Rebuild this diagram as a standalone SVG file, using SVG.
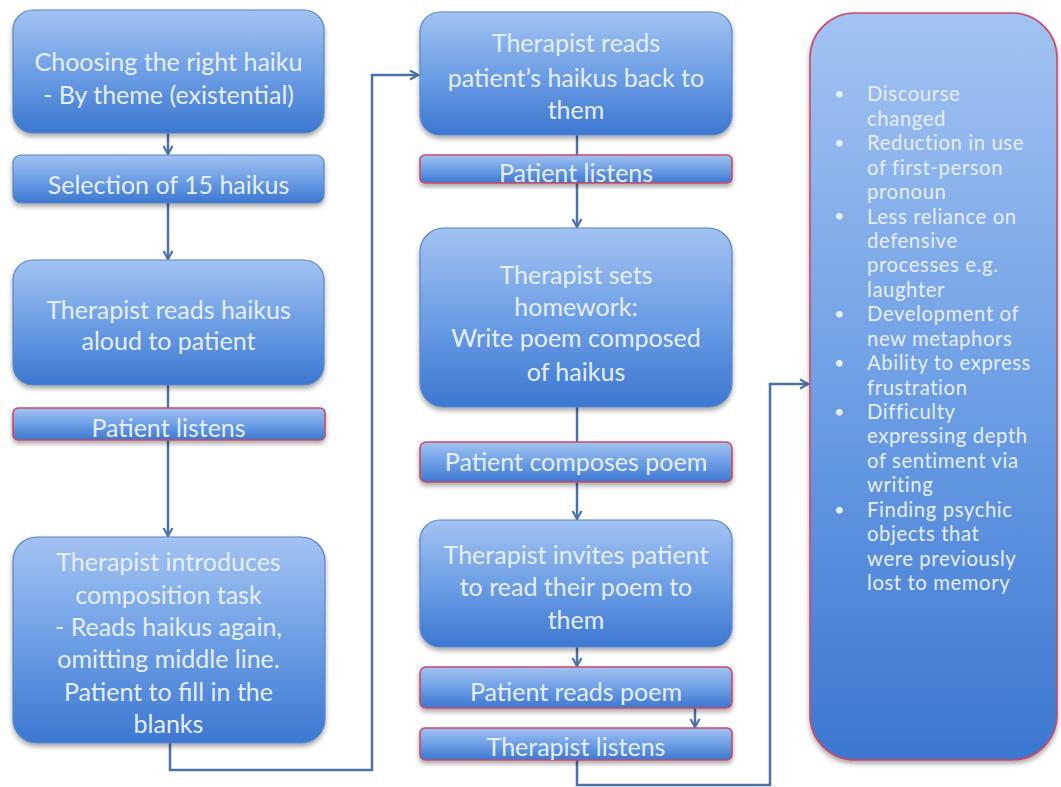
<svg xmlns="http://www.w3.org/2000/svg" width="1061" height="787" viewBox="0 0 1061 787">
  <defs>
    <linearGradient id="boxFill" x1="0" y1="0" x2="0" y2="1">
      <stop offset="0" stop-color="#a2c3f2"/>
      <stop offset="0.5" stop-color="#6e9fe5"/>
      <stop offset="1" stop-color="#3c77d1"/>
    </linearGradient>
    <filter id="shadow" x="-10%" y="-10%" width="120%" height="130%">
      <feDropShadow dx="0" dy="3" stdDeviation="2.5" flood-color="#000" flood-opacity="0.35"/>
    </filter>
    <marker id="arrow" viewBox="0 0 12 12" refX="10" refY="6" markerWidth="12" markerHeight="12" markerUnits="userSpaceOnUse" orient="auto">
      <polyline points="2,1.5 10,6 2,10.5" fill="none" stroke="#4a72a8" stroke-width="2.2" stroke-linejoin="miter"/>
    </marker>
  </defs>
  <style>
    .box { fill: url(#boxFill); stroke: #5b86c2; stroke-width: 1.2; filter: url(#shadow); }
    .sub { fill: url(#boxFill); stroke: #c94a68; stroke-width: 1.6; filter: url(#shadow); }
    .lbl { font-family: Lato, "Noto Sans", sans-serif; font-size: 25px; fill: #e6eefb; text-anchor: middle; }
    .list { font-family: Lato, "Noto Sans", sans-serif; font-size: 20.3px; letter-spacing: 0.6px; fill: #e6eefb; }
    .dot { font-family: Lato, "Noto Sans", sans-serif; font-size: 18px; fill: #e6eefb; }
    .conn { fill: none; stroke: #4a72a8; stroke-width: 2.5; }
  </style>

  <!-- connectors sit under the boxes -->
  <g id="connectors">
    <path class="conn" d="M168,133 V154" marker-end="url(#arrow)"/>
    <path class="conn" d="M168,203 V259" marker-end="url(#arrow)"/>
    <path class="conn" d="M168,385 V536" marker-end="url(#arrow)"/>
    <path class="conn" d="M170,743 V770 H372 V75 H418" marker-end="url(#arrow)"/>
    <path class="conn" d="M577,135 V227" marker-end="url(#arrow)"/>
    <path class="conn" d="M577,407 V519" marker-end="url(#arrow)"/>
    <path class="conn" d="M577,647 V666" marker-end="url(#arrow)"/>
    <path class="conn" d="M695,708 V727" marker-end="url(#arrow)"/>
    <path class="conn" d="M577,760 V785 H770 V384 H808" marker-end="url(#arrow)"/>
  </g>

  <!-- left column -->
  <g id="choose-haiku">
    <rect class="box" x="13" y="10" width="311" height="123" rx="20"/>
    <text class="lbl" x="168.5" y="71">Choosing the right haiku</text>
    <text class="lbl" x="168.5" y="104">- By theme (existential)</text>
  </g>
  <g id="selection">
    <rect class="box" x="13" y="155" width="311" height="48" rx="8"/>
    <text class="lbl" x="168.5" y="194">Selection of 15 haikus</text>
  </g>
  <g id="reads-aloud">
    <rect class="box" x="13" y="260" width="311" height="125" rx="20"/>
    <text class="lbl" x="168.5" y="319">Therapist reads haikus</text>
    <text class="lbl" x="168.5" y="350">aloud to patient</text>
  </g>
  <g id="patient-listens-1">
    <rect class="sub" x="13" y="408" width="312" height="32" rx="5"/>
    <text class="lbl" x="168.5" y="437">Patient listens</text>
  </g>
  <g id="composition-task">
    <rect class="box" x="13" y="537" width="312" height="206" rx="24"/>
    <text class="lbl" x="168.5" y="571">Therapist introduces</text>
    <text class="lbl" x="168.5" y="604">composition task</text>
    <text class="lbl" x="168.5" y="636">- Reads haikus again,</text>
    <text class="lbl" x="168.5" y="668">omitting middle line.</text>
    <text class="lbl" x="168.5" y="701">Patient to fill in the</text>
    <text class="lbl" x="168.5" y="733">blanks</text>
  </g>

  <!-- middle column -->
  <g id="reads-back">
    <rect class="box" x="420" y="12" width="312" height="123" rx="20"/>
    <text class="lbl" x="576" y="52">Therapist reads</text>
    <text class="lbl" x="576" y="87">patient’s haikus back to</text>
    <text class="lbl" x="576" y="119">them</text>
  </g>
  <g id="patient-listens-2">
    <rect class="sub" x="420" y="155" width="312" height="28" rx="5"/>
    <text class="lbl" x="576" y="182">Patient listens</text>
  </g>
  <g id="homework">
    <rect class="box" x="420" y="228" width="312" height="179" rx="24"/>
    <text class="lbl" x="576" y="284">Therapist sets</text>
    <text class="lbl" x="576" y="316">homework:</text>
    <text class="lbl" x="576" y="347">Write poem composed</text>
    <text class="lbl" x="576" y="381">of haikus</text>
  </g>
  <g id="composes-poem">
    <rect class="sub" x="420" y="442" width="312" height="40" rx="6"/>
    <text class="lbl" x="576" y="471">Patient composes poem</text>
  </g>
  <g id="invites-reading">
    <rect class="box" x="420" y="520" width="312" height="127" rx="20"/>
    <text class="lbl" x="576" y="564">Therapist invites patient</text>
    <text class="lbl" x="576" y="596">to read their poem to</text>
    <text class="lbl" x="576" y="629">them</text>
  </g>
  <g id="reads-poem">
    <rect class="sub" x="420" y="667" width="312" height="41" rx="6"/>
    <text class="lbl" x="576" y="701">Patient reads poem</text>
  </g>
  <g id="therapist-listens">
    <rect class="sub" x="420" y="728" width="312" height="32" rx="5"/>
    <text class="lbl" x="576" y="756">Therapist listens</text>
  </g>

  <!-- outcomes -->
  <g id="outcomes">
    <rect class="sub" x="810" y="13" width="247" height="747" rx="45"/>
    <g class="dot">
      <text x="834" y="100">•</text>
      <text x="834" y="149">•</text>
      <text x="834" y="222">•</text>
      <text x="834" y="320">•</text>
      <text x="834" y="369">•</text>
      <text x="834" y="418">•</text>
      <text x="834" y="516">•</text>
    </g>
    <g class="list">
      <text x="867" y="101">Discourse</text>
      <text x="867" y="125.5">changed</text>
      <text x="867" y="150">Reduction in use</text>
      <text x="867" y="174.5">of first-person</text>
      <text x="867" y="199">pronoun</text>
      <text x="867" y="223.5">Less reliance on</text>
      <text x="867" y="248">defensive</text>
      <text x="867" y="272">processes e.g.</text>
      <text x="867" y="296.5">laughter</text>
      <text x="867" y="321">Development of</text>
      <text x="867" y="345.5">new metaphors</text>
      <text x="867" y="370">Ability to express</text>
      <text x="867" y="394.5">frustration</text>
      <text x="867" y="419">Difficulty</text>
      <text x="867" y="443">expressing depth</text>
      <text x="867" y="467.5">of sentiment via</text>
      <text x="867" y="492">writing</text>
      <text x="867" y="516.5">Finding psychic</text>
      <text x="867" y="541">objects that</text>
      <text x="867" y="565.5">were previously</text>
      <text x="867" y="590">lost to memory</text>
    </g>
  </g>
</svg>
